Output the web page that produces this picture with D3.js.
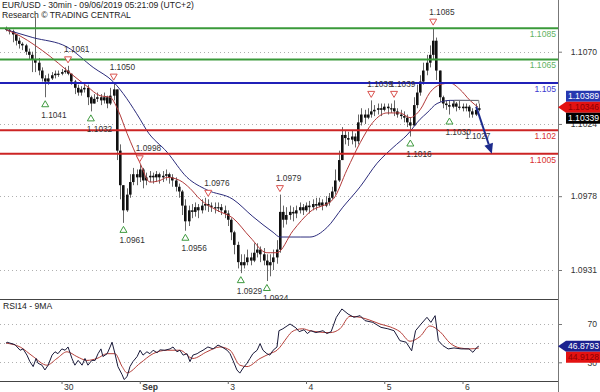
<!DOCTYPE html>
<html><head><meta charset="utf-8">
<script src="https://cdn.jsdelivr.net/npm/d3@7"></script>
<style>
html,body{margin:0;padding:0;background:#fff;}
svg{display:block;font-family:"Liberation Sans",Arial,sans-serif;}
</style></head><body>
<svg id="c" width="600" height="392"></svg>
<script>
// ---------- DATA (hourly bars, index 0 = first bar on the left) ----------
const closes = [1.1084,1.1083,1.1081,1.1077,1.1075,1.1074,1.1070,1.1068,1.1065,1.1063,
1.1058,1.1053,1.1051,1.1053,1.1055,1.1056,1.1056,1.1057,1.1058,1.1056,
1.1051,1.1047,1.1044,1.1046,1.1047,1.1041,1.1037,1.1040,1.1041,1.1039,
1.1041,1.1037,1.1042,1.1046,1.1007,1.0985,1.0969,1.0979,1.0987,1.0992,
1.0990,1.0995,1.0988,1.0990,1.0991,1.0990,1.0992,1.0990,1.0991,1.0992,
1.0990,1.0988,1.0984,1.0981,1.0972,1.0962,1.0969,1.0968,1.0971,1.0969,
1.0972,1.0973,1.0972,1.0971,1.0971,1.0971,1.0969,1.0967,1.0963,1.0955,
1.0947,1.0936,1.0934,1.0936,1.0939,1.0937,1.0942,1.0944,1.0941,1.0937,
1.0934,1.0936,1.0939,1.0944,1.0968,1.0963,1.0966,1.0968,1.0967,1.0969,
1.0971,1.0969,1.0972,1.0971,1.0973,1.0972,1.0974,1.0972,1.0974,1.0977,
1.0981,1.0988,1.1001,1.1017,1.1015,1.1014,1.1016,1.1013,1.1025,1.1030,
1.1028,1.1030,1.1032,1.1033,1.1034,1.1033,1.1035,1.1034,1.1034,1.1032,
1.1030,1.1029,1.1028,1.1025,1.1023,1.1036,1.1044,1.1051,1.1058,1.1063,
1.1068,1.1077,1.1058,1.1041,1.1037,1.1036,1.1035,1.1037,1.1035,1.1035,
1.1034,1.1035,1.1032,1.1030,1.1033,1.1034];
const highs = [1.1086,1.1085,1.1084,1.1081,1.1079,1.1076,1.1075,1.1072,1.1070,1.1092,
1.1066,1.1060,1.1055,1.1056,1.1057,1.1058,1.1058,1.1059,1.1060,1.1061,
1.1056,1.1052,1.1049,1.1048,1.1049,1.1049,1.1042,1.1043,1.1044,1.1043,
1.1044,1.1042,1.1047,1.1050,1.1044,1.1011,1.0985,1.0983,1.0992,1.0996,
1.0995,1.0998,1.0996,1.0993,1.0994,1.0993,1.0994,1.0993,1.0994,1.0995,
1.0993,1.0992,1.0990,1.0986,1.0982,1.0976,1.0972,1.0973,1.0974,1.0973,
1.0976,1.0977,1.0976,1.0974,1.0974,1.0974,1.0973,1.0972,1.0969,1.0964,
1.0956,1.0949,1.0941,1.0941,1.0944,1.0942,1.0948,1.0948,1.0946,1.0945,
1.0941,1.0941,1.0944,1.0950,1.0979,1.0972,1.0971,1.0972,1.0971,1.0972,
1.0974,1.0973,1.0974,1.0975,1.0976,1.0977,1.0977,1.0976,1.0978,1.0980,
1.0984,1.0995,1.1007,1.1022,1.1020,1.1019,1.1020,1.1018,1.1030,1.1034,
1.1033,1.1034,1.1039,1.1036,1.1037,1.1037,1.1037,1.1037,1.1037,1.1039,
1.1034,1.1033,1.1032,1.1030,1.1028,1.1041,1.1049,1.1055,1.1063,1.1068,
1.1074,1.1085,1.1079,1.1058,1.1042,1.1039,1.1039,1.1039,1.1038,1.1039,
1.1037,1.1037,1.1036,1.1034,1.1037,1.1037];
const lows = [1.1083,1.1081,1.1076,1.1074,1.1072,1.1071,1.1068,1.1065,1.1057,1.1057,
1.1055,1.1051,1.1041,1.1049,1.1052,1.1053,1.1054,1.1055,1.1056,1.1055,
1.1049,1.1043,1.1042,1.1042,1.1044,1.1036,1.1032,1.1037,1.1038,1.1036,
1.1037,1.1034,1.1036,1.1039,1.1001,1.0976,1.0961,1.0968,1.0977,1.0985,
1.0985,1.0987,1.0983,1.0985,1.0987,1.0986,1.0987,1.0986,1.0987,1.0988,
1.0986,1.0984,1.0981,1.0977,1.0966,1.0956,1.0959,1.0964,1.0965,1.0964,
1.0967,1.0969,1.0968,1.0968,1.0967,1.0968,1.0966,1.0964,1.0959,1.0950,
1.0941,1.0932,1.0929,1.0932,1.0934,1.0934,1.0936,1.0939,1.0936,1.0934,
1.0924,1.0927,1.0931,1.0935,1.0942,1.0958,1.0960,1.0963,1.0962,1.0964,
1.0967,1.0966,1.0968,1.0967,1.0969,1.0969,1.0971,1.0969,1.0971,1.0972,
1.0976,1.0979,1.0987,1.1002,1.1011,1.1010,1.1011,1.1009,1.1011,1.1023,
1.1024,1.1027,1.1028,1.1029,1.1030,1.1029,1.1032,1.1030,1.1031,1.1029,
1.1028,1.1027,1.1025,1.1022,1.1016,1.1023,1.1034,1.1042,1.1049,1.1055,
1.1060,1.1065,1.1052,1.1038,1.1034,1.1033,1.1030,1.1034,1.1032,1.1033,
1.1032,1.1032,1.1028,1.1028,1.1029,1.1032];
const firstOpen = 1.1085;

// moving averages (bar index, price)
const maFastBars = [0,4.3,8.9,13.5,18.7,24.8,28.8,31.9,34.3,37.1,41.1,44.1,47.2,49.4,53.3,56.4,59.5,64.7,69.6,74.8,80,83.1,88,93.2,100.3,104.6,108.6,112.5,116.8,120.8,123.9,127,130,133.1,136.2,139.2,142.3,144.8];
const maFast = [1.1084,1.1080,1.1074,1.1067,1.1058,1.1048,1.1042,1.1041,1.1033,1.1018,1.0999,1.0987,1.0988,1.0990,1.0988,1.0983,1.0976,1.0969,1.0964,1.0952,1.0942,1.0942,1.0956,1.0968,1.0976,1.0995,1.1012,1.1025,1.1031,1.1031,1.1028,1.1033,1.1044,1.1049,1.1050,1.1046,1.1039,1.10346];
const maSlowBars = [0,8.2,18.7,26.7,32.8,41.1,43.1,49.4,55.5,61.6,69.6,75.7,81.9,84,90.2,93.2,98.4,103.3,108.6,113.8,118.7,123,127,129.1,132.2,136.2,139.2,144.8];
const maSlow = [1.1084,1.1079,1.1073,1.1060,1.1051,1.1027,1.1020,1.1006,1.0990,1.0982,1.0976,1.0965,1.0955,1.0952,1.0952,1.0952,1.0958,1.0971,1.0984,1.0999,1.1009,1.1017,1.1027,1.1031,1.1037,1.1039,1.1039,1.10389];

// RSI14 and its 9MA (bar index, value)
const rsiBars = [0,0.3,1.2,2.7,4.3,5.2,6.4,7.3,8.3,9.2,9.8,11,11.9,12.9,14.1,15,15.9,17.1,18.1,19,
20.2,21.1,22.1,23.3,24.2,25.1,26.3,27.3,28.2,29.1,29.7,31,31.9,32.5,33.4,34.3,35.6,36.2,37.1,38,
38.9,40.2,41.1,42,43.2,44.1,45.1,46.3,47.2,48.7,50.3,51.2,52.4,53.3,54.3,55.5,56.4,57.3,58.6,59.5,
60.4,61.9,63.5,65,66.2,67.8,68.7,69.6,70.8,71.7,72.7,73.9,74.8,75.7,77,77.9,78.8,80,80.9,81.9,
83.1,83.7,84.9,86.2,87.1,88.9,89.9,91.4,92.4,93.5,95,97.2,98.4,99.7,101.3,103,104.9,106.7,108.6,110.1,
112.5,115,117.1,119,120.8,122.7,124.4,125.6,127.3,129.1,130.3,131.6,132.6,134,135.6,137.4,139.6,142,143.2,144.4,145];
const rsiVals = [50,51,50,48.5,42.6,44,37.5,30.7,25.5,34,29,27,22,27,37.5,41,39,44,42.6,46,
34,27,32,27,34,27,32,32,39,44,36,39,46,51,39,25.5,17,12,15,25.5,
30.7,36,42.6,37.5,41,39,42.6,40,43,42.6,44,46,41,42.6,37.5,39,30.7,37.5,39,41,
42.6,46,44,48,46,42.6,39,32,22,18.7,24,29,34,39,42.6,49.5,42.6,39,37.5,42.6,
46,63,65,68,70,66,62,64,60,63,61,63,60,62,77,85.7,80.4,77,78.7,73.5,
71.7,66.5,65,63,52.6,51,42,63,70,77,71.7,78.7,52.6,47.4,44,45,44,44,40.4,45.6,46.8793];
const rsiMaBars = [0,4.3,8.3,12.5,15.6,18.7,21.7,24.8,27.9,31,33.4,35.6,37.1,41.1,45.1,49.4,53.3,57.3,61.6,65.6,68.7,71.7,73.9,77.9,80.9,83.1,86.2,87.1,89,91,93.2,99.4,102.4,105.5,108.6,111.6,114.7,117.8,120.8,123.9,127,130,133.1,136.2,139.2,142.3,145];
const rsiMa = [50,46,36,27,34,41,36,32,34,39,39,25.5,19,29,39,42.6,42.6,34,41,46,42.6,27,25.5,34,39,42.6,56,60,64,65,63,61,65,78,77,74,70,67,62,52,57,68,62,50,45,44,44.9128];

// axes / ticks
const priceTicks = [1.1070,1.1024,1.0978,1.0931];
const rsiGrid = [70,50,30];
const rsiTicks = [70,30];
const dayTickBars = [17,41,68,92,116,140];
const dayTickLabels = ["30","Sep","3","4","5","6"];

// key levels
const levels = [1.1085,1.1065,1.105,1.102,1.1005];
const levelLabels = ["1.1085","1.1065","1.105","1.102","1.1005"];
const levelKinds = ["res","res","pivot","sup","sup"];

// swing highs / lows
const swingBars = [12,19,26,33,36,41,55,62,72,80,84,112,119,124,131,136];
const swingPrices = [1.1041,1.1061,1.1032,1.1050,1.0961,1.0998,1.0956,1.0976,1.0929,1.0924,1.0979,1.1039,1.1039,1.1016,1.1085,1.1030];
const swingKinds = ["L","H","L","H","L","H","L","H","L","L","H","H","H","L","H","L"];
const targetBar = 142, targetPrice = 1.1027;
const arrowBars = [144.2,149], arrowPrices = [1.1035,1.1005];
const bracketBars = [137.5,145], bracketPrice = 1.1039;

// last-value tags
const tagValues = [1.10389,1.10346,1.10339];
const tagKinds = ["slow","fast","last"];
const rsiTagValues = [46.8793,44.9128];
const rsiTagKinds = ["rsi","rsiMa"];

const title1 = "EUR/USD - 30min - 09/06/2019 05:21:09 (UTC+2)";
const title2 = "Research \u00A9 TRADING CENTRAL";
const rsiTitle = "RSI14 - 9MA";

// ---------- LAYOUT / STYLE ----------
const plotR = 558, mainBot = 299, rsiBot = 381;
const levelColor = {res:"#3a9a3a", pivot:"#2020b8", sup:"#cc2424"};
const levelText = {res:"#62b262", pivot:"#3a3ad0", sup:"#d83030"};
const tagFill = {slow:"#2638b0", fast:"#e31212", last:"#000", rsi:"#1c2290", rsiMa:"#e31212"};
const tagTextCol = {slow:"#fff", fast:"#8c0000", last:"#fff", rsi:"#fff", rsiMa:"#8c0000"};

const svg = d3.select("#c");
const x = d3.scaleLinear().domain([0,145]).range([6.1,478.8]);
const y = d3.scaleLinear().domain([1.0931,1.1070]).range([270,51.7]);
const ry = d3.scaleLinear().domain([30,70]).range([362.3,324]);

const defs = svg.append("defs");
defs.append("clipPath").attr("id","cm").append("rect").attr("x",0).attr("y",0).attr("width",plotR).attr("height",mainBot);
defs.append("clipPath").attr("id","cr").append("rect").attr("x",0).attr("y",mainBot+1).attr("width",plotR).attr("height",rsiBot-mainBot-1);

// titles
svg.append("text").attr("x",2).attr("y",8).attr("font-size",8.6).attr("fill","#222").text(title1);
svg.append("text").attr("x",2).attr("y",17.5).attr("font-size",8.6).attr("fill","#222").text(title2);

const main = svg.append("g").attr("clip-path","url(#cm)");

// dotted grid
main.selectAll("line.g").data(priceTicks).join("line")
  .attr("x1",0).attr("x2",plotR-2).attr("y1",d=>Math.round(y(d))+0.5).attr("y2",d=>Math.round(y(d))+0.5)
  .attr("stroke","#b0b0b0").attr("stroke-dasharray","1,3");

// candles
const bars = closes.map((c,i)=>({i, o: i?closes[i-1]:firstOpen, c, h:highs[i], l:lows[i]}));
const cg = main.append("g");
cg.selectAll("line").data(bars).join("line")
  .attr("x1",d=>Math.round(x(d.i))+0.5).attr("x2",d=>Math.round(x(d.i))+0.5)
  .attr("y1",d=>y(Math.max(d.h,d.o,d.c))).attr("y2",d=>y(Math.min(d.l,d.o,d.c)))
  .attr("stroke","#666").attr("stroke-width",1);
cg.selectAll("rect").data(bars).join("rect")
  .attr("x",d=>Math.round(x(d.i))-1).attr("width",2.6)
  .attr("y",d=>y(Math.max(d.o,d.c))).attr("height",d=>Math.max(1.2,Math.abs(y(d.o)-y(d.c))))
  .attr("fill","#111");

// moving averages
const lineGen = d3.line().x(d=>x(d[0])).y(d=>y(d[1])).curve(d3.curveMonotoneX);
main.append("path").datum(d3.zip(maSlowBars,maSlow)).attr("d",lineGen).attr("fill","none").attr("stroke","#2c2c7c").attr("stroke-width",1);
main.append("path").datum(d3.zip(maFastBars,maFast)).attr("d",lineGen).attr("fill","none").attr("stroke","#b23a3a").attr("stroke-width",1);

// levels
main.selectAll("line.lv").data(levels).join("line")
  .attr("x1",0).attr("x2",plotR).attr("y1",d=>y(d)).attr("y2",d=>y(d))
  .attr("stroke",(d,i)=>levelColor[levelKinds[i]]).attr("stroke-width",2);
main.selectAll("text.lv").data(levels).join("text")
  .attr("x",plotR-2).attr("y",d=>y(d)+8.8).attr("text-anchor","end").attr("font-size",8.6)
  .attr("fill",(d,i)=>levelText[levelKinds[i]]).text((d,i)=>levelLabels[i]);

// bracket
main.append("path")
  .attr("d",`M${x(bracketBars[0])},${y(bracketPrice)+4}V${y(bracketPrice)}H${x(bracketBars[1])}V${y(bracketPrice)+3}`)
  .attr("fill","none").attr("stroke","#777").attr("stroke-width",1);

// swing markers
const fmt4 = d3.format(".4f");
const sw = d3.range(swingBars.length).map(k=>({b:swingBars[k],p:swingPrices[k],t:swingKinds[k]}));
main.selectAll("path.tri").data(sw).join("path")
  .attr("d",d=>{const cx=x(d.b); if(d.t==="H"){const cy=y(d.p)-6; return `M${cx-3.5},${cy-3}L${cx+3.5},${cy-3}L${cx},${cy+3}Z`;} const cy=y(d.p)+6.5; return `M${cx-3.5},${cy+3}L${cx+3.5},${cy+3}L${cx},${cy-3}Z`;})
  .attr("fill","#fff").attr("stroke",d=>d.t==="H"?"#d9534f":"#3f9a3f").attr("stroke-width",1);
main.selectAll("text.sw").data(sw).join("text")
  .attr("x",d=>x(d.b)-4).attr("y",d=>d.t==="H"?y(d.p)-13.5:y(d.p)+20.5)
  .attr("font-size",8.3).attr("fill","#333").text(d=>fmt4(d.p));
main.append("text").attr("x",x(targetBar)-4).attr("y",y(targetPrice)+19.5)
  .attr("font-size",8.3).attr("fill","#333").text(fmt4(targetPrice));

// arrow
const ax0=x(arrowBars[0]), ay0=y(arrowPrices[0]), ax1=x(arrowBars[1]), ay1=y(arrowPrices[1]);
const ang = Math.atan2(ay1-ay0, ax1-ax0);
const hl=10, hw=4.5;
const bx=ax1-hl*Math.cos(ang), by=ay1-hl*Math.sin(ang);
main.append("line").attr("x1",ax0).attr("y1",ay0).attr("x2",bx).attr("y2",by).attr("stroke","#1c2a8c").attr("stroke-width",2);
main.append("path").attr("d",`M${ax1},${ay1}L${bx+hw*Math.sin(ang)},${by-hw*Math.cos(ang)}L${bx-hw*Math.sin(ang)},${by+hw*Math.cos(ang)}Z`).attr("fill","#1c2a8c");

// RSI panel
const rg = svg.append("g").attr("clip-path","url(#cr)");
rg.selectAll("line").data(rsiGrid).join("line")
  .attr("x1",0).attr("x2",plotR-2).attr("y1",d=>Math.round(ry(d))+0.5).attr("y2",d=>Math.round(ry(d))+0.5)
  .attr("stroke","#b0b0b0").attr("stroke-dasharray","1,3");
rg.append("path").datum(d3.zip(rsiMaBars,rsiMa)).attr("d",d3.line().x(d=>x(d[0])).y(d=>ry(d[1])).curve(d3.curveMonotoneX)).attr("fill","none").attr("stroke","#b5403a").attr("stroke-width",1);
rg.append("path").datum(d3.zip(rsiBars,rsiVals)).attr("d",d3.line().x(d=>x(d[0])).y(d=>ry(d[1]))).attr("fill","none").attr("stroke","#1a1a3a").attr("stroke-width",1);
svg.append("text").attr("x",3).attr("y",309).attr("font-size",8.6).attr("fill","#222").text(rsiTitle);

// frame lines
svg.append("line").attr("x1",0).attr("x2",plotR).attr("y1",mainBot+0.5).attr("y2",mainBot+0.5).attr("stroke","#444");
svg.append("line").attr("x1",0).attr("x2",plotR).attr("y1",rsiBot+0.5).attr("y2",rsiBot+0.5).attr("stroke","#444");
svg.append("line").attr("x1",plotR+0.5).attr("x2",plotR+0.5).attr("y1",0).attr("y2",392).attr("stroke","#777");

// right axes
function styleAxis(g){
  g.select(".domain").remove();
  g.selectAll(".tick line").attr("stroke","#777");
  g.selectAll(".tick text").attr("x",39).attr("text-anchor","end").attr("fill","#333").attr("font-size",8.6).attr("font-family","Liberation Sans, Arial, sans-serif");
}
svg.append("g").attr("transform",`translate(${plotR},0)`)
  .call(d3.axisRight(y).tickValues(priceTicks).tickFormat(fmt4).tickSize(4)).call(styleAxis);
svg.append("g").attr("transform",`translate(${plotR},0)`)
  .call(d3.axisRight(ry).tickValues(rsiTicks).tickFormat(d3.format("d")).tickSize(4)).call(styleAxis);

// bottom axis
const xb = svg.append("g").attr("transform",`translate(0,${rsiBot})`)
  .call(d3.axisBottom(x).tickValues(dayTickBars).tickFormat((d,i)=>dayTickLabels[i]).tickSize(3).tickPadding(0));
xb.select(".domain").remove();
xb.selectAll(".tick line").attr("stroke","#666");
xb.selectAll(".tick text").attr("text-anchor","start").attr("dx",2).attr("fill","#333").attr("font-size",8.6)
  .attr("font-family","Liberation Sans, Arial, sans-serif")
  .attr("font-weight",(d,i)=>isNaN(+dayTickLabels[i])?"bold":"normal");

// tags
function placeTags(vals, scale){
  const items = vals.map((v,k)=>({v,k,ny:scale(v)})).sort((a,b)=>a.ny-b.ny);
  const a = Math.floor((items.length-1)/2);
  items[a].ty = items[a].ny; items[a].ptr = true;
  for(let j=a-1;j>=0;j--) items[j].ty = Math.min(items[j].ny, items[j+1].ty-11);
  for(let j=a+1;j<items.length;j++) items[j].ty = Math.max(items[j].ny, items[j-1].ty+11);
  return items;
}
function drawTags(vals, kinds, scale, fmt){
  const items = placeTags(vals, scale);
  const g = svg.append("g");
  items.forEach(it=>{
    const k = kinds[it.k], t = it.ty;
    const d = it.ptr ? `M${plotR},${t}L${plotR+8},${t-5.5}H600V${t+5.5}H${plotR+8}Z` : `M${plotR+8},${t-5.5}H600V${t+5.5}H${plotR+8}Z`;
    g.append("path").attr("d",d).attr("fill",tagFill[k]);
    g.append("text").attr("x",583.5).attr("y",t+3).attr("text-anchor","middle").attr("font-size",8.6)
      .attr("fill",tagTextCol[k]).text(fmt(it.v));
  });
}
drawTags(tagValues, tagKinds, y, d3.format(".5f"));
drawTags(rsiTagValues, rsiTagKinds, ry, d3.format(".4f"));
</script>
</body></html>
